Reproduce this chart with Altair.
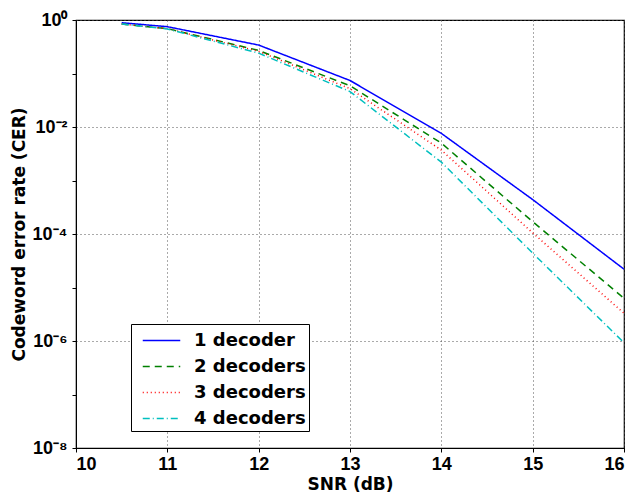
import altair as alt
import pandas as pd

snr = [10.5, 11, 12, 13, 14, 15, 16]
cer_1 = [0.89, 0.75, 0.34, 0.074, 0.0076, 4.4e-4, 2.2e-5]
cer_2 = [0.84, 0.69, 0.27, 0.059, 0.0050, 1.7e-4, 6.3e-6]
cer_3 = [0.84, 0.69, 0.26, 0.052, 0.0037, 1.05e-4, 3.3e-6]
cer_4 = [0.84, 0.68, 0.24, 0.046, 0.0022, 4.4e-5, 9.3e-7]
series = ["1 decoder", "2 decoders", "3 decoders", "4 decoders"]
colors = ["#0000ff", "#008000", "#ff0000", "#00bfbf"]
dashes = [[1, 0], [7, 5], [1, 3], [7, 3, 1, 3]]
x_ticks = [10, 11, 12, 13, 14, 15, 16]
y_ticks = [1, 1e-1, 1e-2, 1e-3, 1e-4, 1e-5, 1e-6, 1e-7, 1e-8]

rows = []
for name, vals in zip(series, [cer_1, cer_2, cer_3, cer_4]):
    for s, v in zip(snr, vals):
        rows.append({"snr": s, "cer": v, "series": name})
df = pd.DataFrame(rows)

tick_font = "Liberation Sans"
text_font = "DejaVu Sans"

chart = alt.Chart(df).mark_line(strokeWidth=1.5, clip=True).encode(
    x=alt.X("snr:Q", scale=alt.Scale(domain=[10, 16], nice=False, zero=False),
            axis=alt.Axis(values=x_ticks, title="SNR (dB)", format="d",
                          grid=True, gridDash=[1, 3], gridColor="#555555",
                          gridOpacity=1, tickSize=4, labelPadding=3,
                          labelFontSize=18, labelFontWeight="bold", labelFont=tick_font,
                          titleFontSize=17, titleFontWeight="bold", titleFont=text_font,
                          titleY=41, titleBaseline="alphabetic",
                          domainColor="black", tickColor="black",
                          labelColor="black", titleColor="black")),
    y=alt.Y("cer:Q", scale=alt.Scale(type="log", domain=[1e-8, 1], nice=False),
            axis=alt.Axis(values=y_ticks, title="Codeword error rate (CER)",
                          labelExpr="round(-log(datum.value)/LN10) % 2 == 0 ? '10' + ['⁰','⁻²','⁻⁴','⁻⁶','⁻⁸'][round(-log(datum.value)/LN10)/2] : ''",
                          grid=True, gridDash=[1, 3], gridColor="#555555",
                          gridOpacity={"condition": {"test": "round(-log(datum.value)/LN10) % 2 == 0", "value": 1}, "value": 0},
                          tickSize=4, labelPadding=5,
                          labelFontSize=18, labelFontWeight="bold", labelFont=tick_font,
                          titleFontSize=17, titleFontWeight="bold", titleFont=text_font,
                          titlePadding=4, domainColor="black", tickColor="black",
                          labelColor="black", titleColor="black")),
    color=alt.Color("series:N", scale=alt.Scale(domain=series, range=colors),
                    legend=alt.Legend(title=None, orient="none", legendX=55, legendY=304,
                                      fillColor="white", strokeColor="black",
                                      padding=3, rowPadding=3,
                                      symbolType="M-1.5,0H1.5", symbolSize=625,
                                      symbolOffset=14,
                                      symbolStrokeWidth=1.5,
                                      labelFontSize=18, labelFontWeight="bold",
                                      labelFont=text_font, labelColor="black",
                                      labelLimit=300, labelOffset=19)),
    strokeDash=alt.StrokeDash("series:N", scale=alt.Scale(domain=series, range=dashes),
                              legend=None),
).properties(
    width=548, height=428,
    autosize=alt.AutoSizeParams(type="none"),
    padding={"left": 68, "top": 12, "right": 4, "bottom": 48},
).configure_view(stroke="black", strokeWidth=1.2)

chart.save("out.html", embed_options={"renderer": "svg", "actions": False})
